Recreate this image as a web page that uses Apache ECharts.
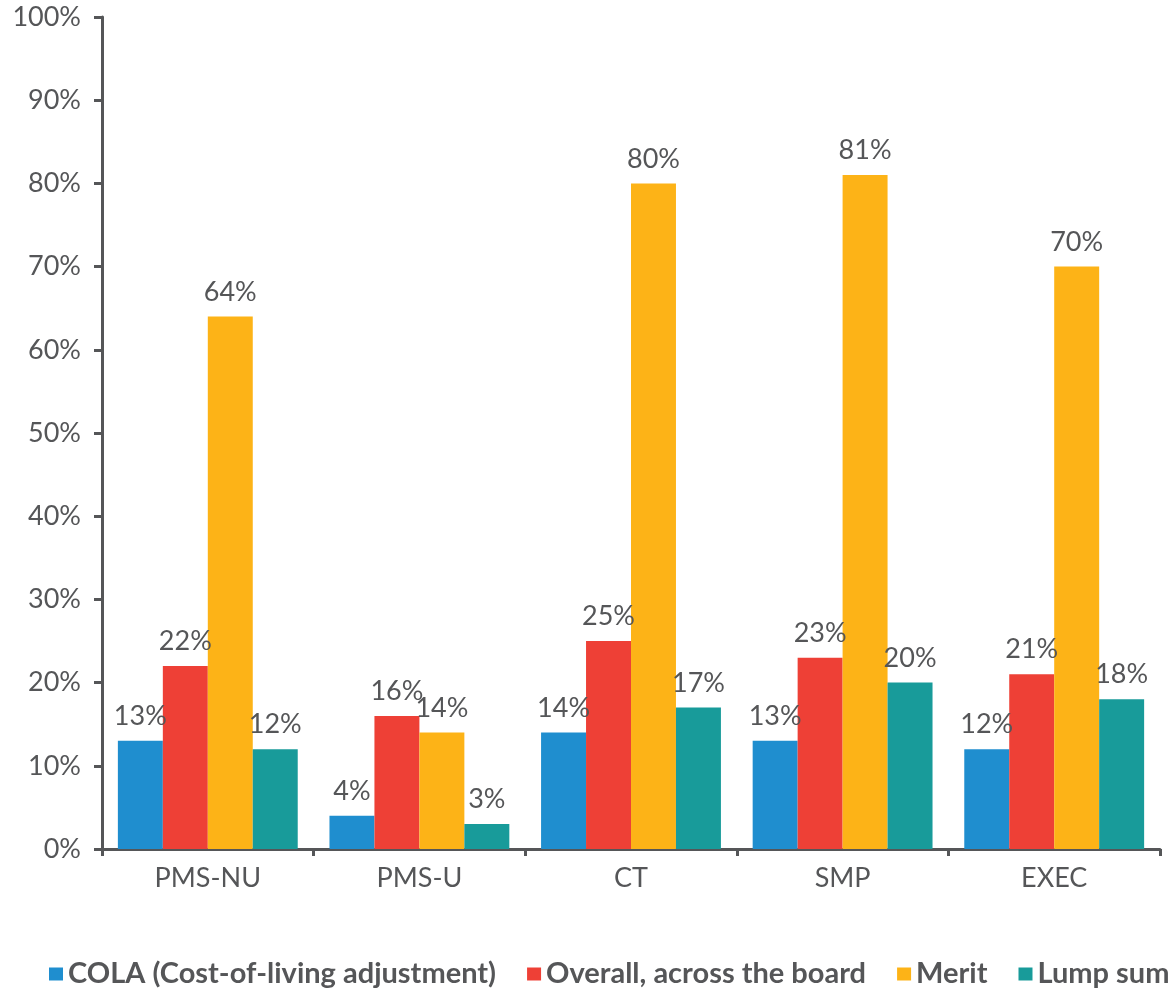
<!DOCTYPE html>
<html>
<head>
<meta charset="utf-8">
<script src="https://cdn.jsdelivr.net/npm/echarts@6/dist/echarts.min.js"></script>
<style>
  html, body { margin: 0; padding: 0; background: #fff; }
  #chart { width: 1175px; height: 989px; }
</style>
</head>
<body>
<div id="chart"></div>
<script>
// Share of organisations using each pay-increase type, by employee group
const categories = ['PMS-NU', 'PMS-U', 'CT', 'SMP', 'EXEC'];
const colaValues = [13, 4, 14, 13, 12];
const overallValues = [22, 16, 25, 23, 21];
const meritValues = [64, 14, 80, 81, 70];
const lumpSumValues = [12, 3, 17, 20, 18];
const seriesNames = ['COLA (Cost-of-living adjustment)', 'Overall, across the board', 'Merit', 'Lump sum'];
const seriesColors = ['#1F8ECF', '#EE4036', '#FDB317', '#189B9A'];

const FONT = 'Lato, "Noto Sans", sans-serif';
const TEXT = '#555658';

function barSeries(name, data, color) {
  return {
    name: name,
    type: 'bar',
    data: data,
    barGap: '0%',
    barCategoryGap: '15%',
    itemStyle: { color: color },
    label: {
      show: true,
      position: 'top',
      distance: 11,
      formatter: '{c}%',
      color: TEXT,
      fontFamily: FONT,
      fontSize: 27
    }
  };
}

const chart = echarts.init(document.getElementById('chart'), null, { renderer: 'canvas' });
chart.setOption({
  animation: false,
  textStyle: { fontFamily: FONT },
  grid: { left: 102, right: 15, top: 17, bottom: 140, containLabel: false },
  legend: {
    top: 954,
    left: 44,
    itemWidth: 14,
    itemHeight: 13,
    itemGap: 31,
    icon: 'rect',
    textStyle: { color: TEXT, fontFamily: FONT, fontSize: 29, fontWeight: 'bold', lineHeight: 30 }
  },
  xAxis: {
    type: 'category',
    data: categories,
    axisLine: { lineStyle: { color: TEXT, width: 3 } },
    axisTick: { show: true, length: 7, lineStyle: { color: TEXT, width: 3 } },
    axisLabel: { color: TEXT, fontFamily: FONT, fontSize: 27, margin: 16 }
  },
  yAxis: {
    type: 'value',
    min: 0,
    max: 100,
    interval: 10,
    splitLine: { show: false },
    axisLine: { show: true, lineStyle: { color: TEXT, width: 3 } },
    axisTick: { show: true, length: 8, lineStyle: { color: TEXT, width: 3 } },
    axisLabel: { color: TEXT, fontFamily: FONT, fontSize: 27, margin: 21, formatter: '{value}%' }
  },
  series: [
    barSeries(seriesNames[0], colaValues, seriesColors[0]),
    barSeries(seriesNames[1], overallValues, seriesColors[1]),
    barSeries(seriesNames[2], meritValues, seriesColors[2]),
    barSeries(seriesNames[3], lumpSumValues, seriesColors[3])
  ]
});
</script>
</body>
</html>
